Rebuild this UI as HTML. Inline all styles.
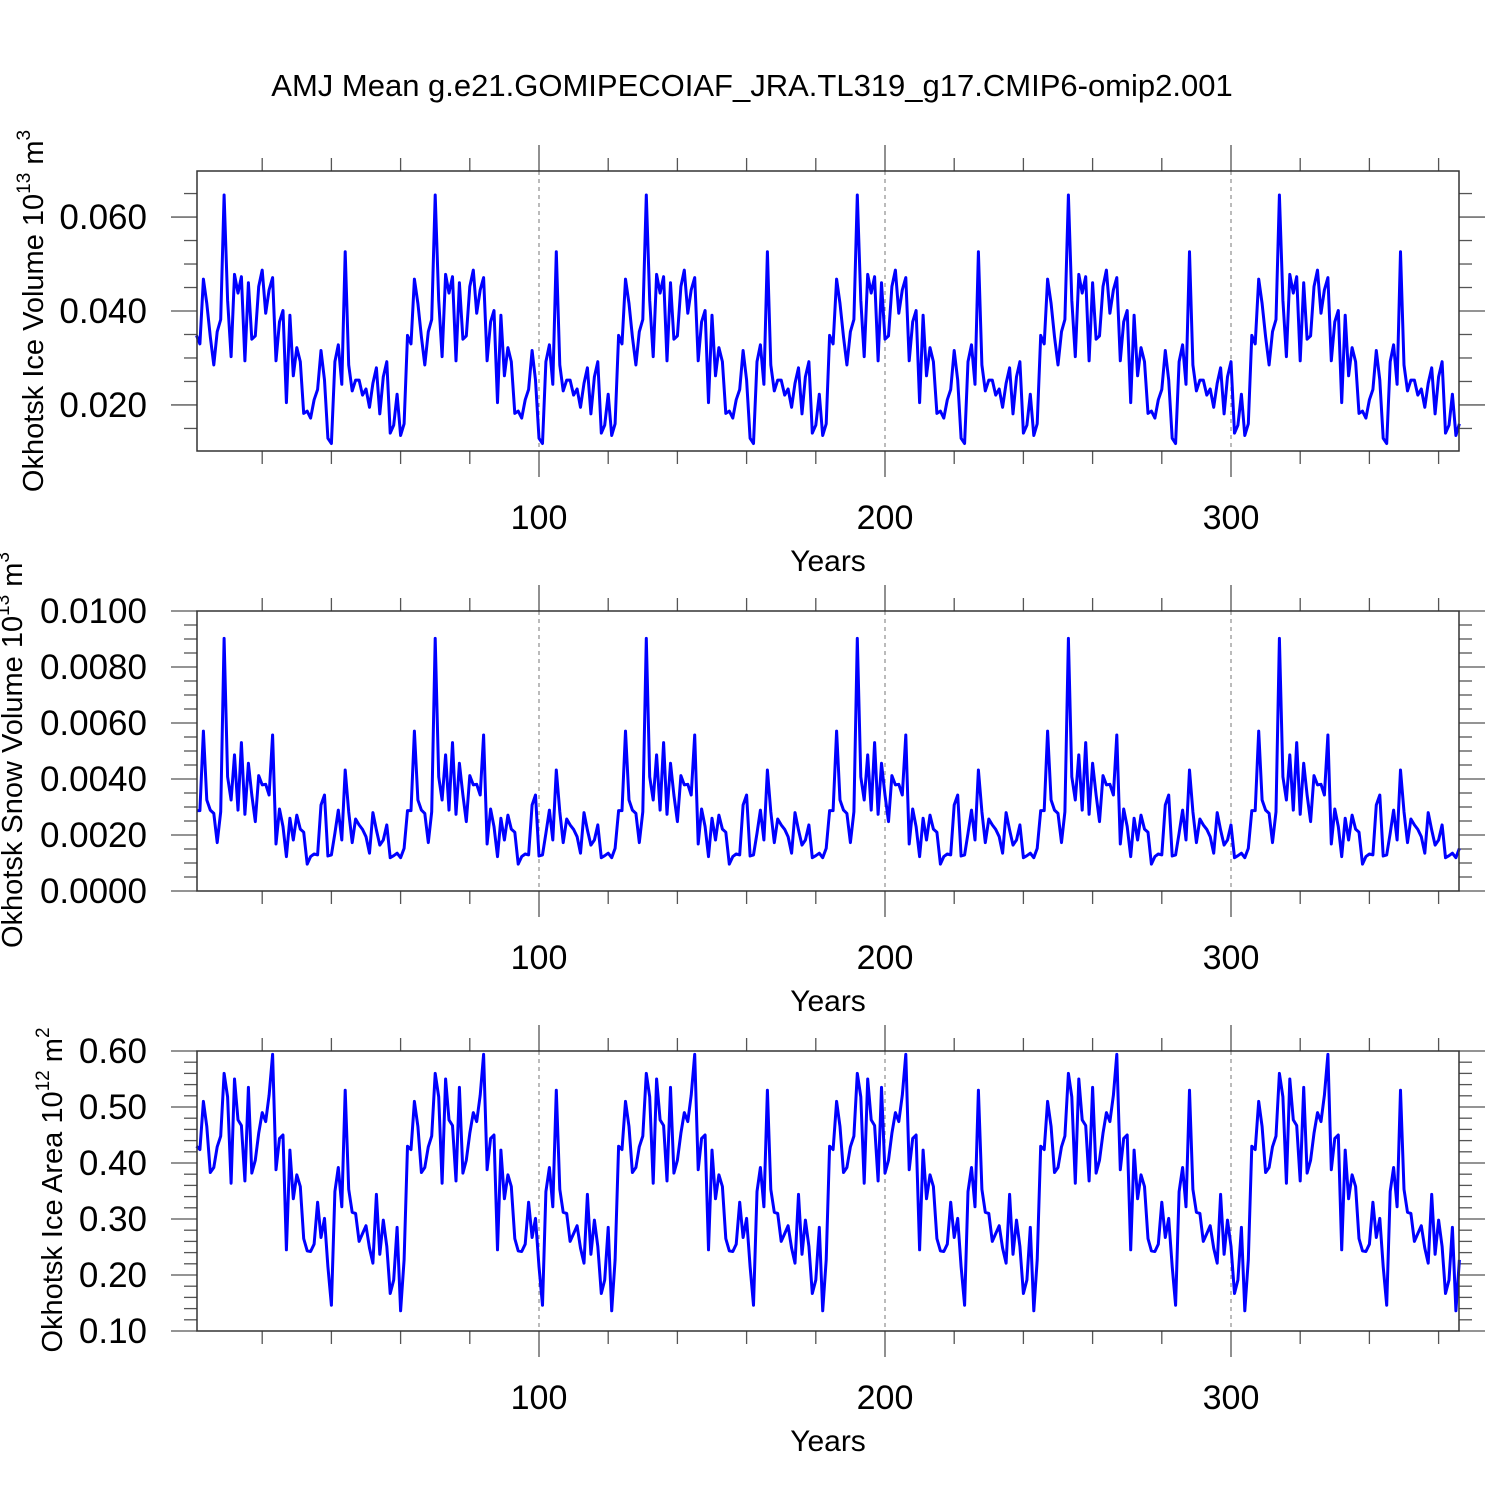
<!DOCTYPE html>
<html><head><meta charset="utf-8"><style>
html,body{margin:0;padding:0;background:#fff}
svg{display:block;font-family:"Liberation Sans",Arial,sans-serif}
</style></head><body>
<svg id="chart" width="1500" height="1500" viewBox="0 0 1500 1500">
<text x="752" y="96" font-size="31" text-anchor="middle">AMJ Mean g.e21.GOMIPECOIAF_JRA.TL319_g17.CMIP6-omip2.001</text>
</svg>
<script>
const iceVolCycle = [0.0348,0.0330,0.0468,0.0416,0.0345,0.0285,0.0356,0.0382,0.0647,0.0423,0.0303,0.0478,0.0438,0.0473,0.0294,0.0460,0.0340,0.0347,0.0452,0.0487,0.0395,0.0445,0.0471,0.0294,0.0377,0.0401,0.0205,0.0391,0.0262,0.0322,0.0292,0.0182,0.0187,0.0172,0.0211,0.0233,0.0316,0.0253,0.0129,0.0118,0.0292,0.0328,0.0244,0.0526,0.0285,0.0230,0.0253,0.0253,0.0221,0.0234,0.0195,0.0246,0.0279,0.0181,0.0260,0.0292,0.0140,0.0157,0.0223,0.0135,0.0160];
const snowVolCycle = [0.00287,0.00287,0.00571,0.00325,0.00289,0.00277,0.00173,0.00283,0.00902,0.00408,0.00325,0.00486,0.00289,0.00530,0.00274,0.00456,0.00343,0.00248,0.00412,0.00379,0.00381,0.00343,0.00557,0.00168,0.00293,0.00230,0.00123,0.00260,0.00182,0.00271,0.00221,0.00210,0.00096,0.00123,0.00132,0.00129,0.00307,0.00343,0.00125,0.00129,0.00206,0.00289,0.00182,0.00432,0.00283,0.00173,0.00257,0.00236,0.00220,0.00194,0.00135,0.00280,0.00218,0.00164,0.00182,0.00236,0.00119,0.00126,0.00135,0.00119,0.00152];
const iceAreaCycle = [0.430,0.424,0.510,0.465,0.383,0.392,0.429,0.448,0.560,0.518,0.364,0.550,0.477,0.467,0.368,0.535,0.382,0.405,0.453,0.490,0.474,0.521,0.594,0.388,0.444,0.450,0.245,0.423,0.336,0.379,0.358,0.265,0.243,0.242,0.255,0.330,0.267,0.301,0.215,0.146,0.349,0.392,0.322,0.530,0.353,0.312,0.310,0.260,0.274,0.288,0.248,0.221,0.344,0.237,0.298,0.251,0.167,0.191,0.285,0.136,0.227];
const iceVolume = [].concat(iceVolCycle,iceVolCycle,iceVolCycle,iceVolCycle,iceVolCycle,iceVolCycle);
const snowVolume = [].concat(snowVolCycle,snowVolCycle,snowVolCycle,snowVolCycle,snowVolCycle,snowVolCycle);
const iceArea = [].concat(iceAreaCycle,iceAreaCycle,iceAreaCycle,iceAreaCycle,iceAreaCycle,iceAreaCycle);
const xTickLabels = [100,200,300];
const yTicks1 = ["0.020","0.040","0.060"];
const yTicks2 = ["0.0000","0.0020","0.0040","0.0060","0.0080","0.0100"];
const yTicks3 = ["0.10","0.20","0.30","0.40","0.50","0.60"];

const NS="http://www.w3.org/2000/svg";
const svg=document.getElementById('chart');
function mk(tag,attrs,parent){const e=document.createElementNS(NS,tag);for(const k in attrs)e.setAttribute(k,attrs[k]);(parent||svg).appendChild(e);return e;}
const X0=197,X1=1459;
function xs(yr){return 539+(yr-100)*3.46;}

function panel(p){
  const g=mk('g',{});
  
  
  const ys=v=>p.bot-(v-p.ymin)/(p.ymax-p.ymin)*(p.bot-p.top);
  xTickLabels.forEach(t=>{
    const l=mk('line',{x1:xs(t),x2:xs(t),y1:p.top,y2:p.bot,stroke:'#777','stroke-width':1,'stroke-dasharray':'4,4'},g);
    
    
  });
  for(let t=20;t<=360;t+=20){
    const maj=t%100===0, len=maj?26:13;
    mk('line',{x1:xs(t),x2:xs(t),y1:p.top,y2:p.top-len,stroke:'#555','stroke-width':1.3},g);
    mk('line',{x1:xs(t),x2:xs(t),y1:p.bot,y2:p.bot+len,stroke:'#555','stroke-width':1.3},g);
  }
  const start=Math.ceil(p.ymin/p.minor-1e-6);
  for(let i=start;i*p.minor<=p.ymax+1e-9;i++){
    const v=i*p.minor, y=ys(v);
    const maj=Math.abs(v/p.major-Math.round(v/p.major))<1e-6, len=maj?26:13;
    mk('line',{x1:X0,x2:X0-len,y1:y,y2:y,stroke:'#555','stroke-width':1.3},g);
    mk('line',{x1:X1,x2:X1+len,y1:y,y2:y,stroke:'#555','stroke-width':1.3},g);
  }
  p.labels.forEach(s=>{
    const t=mk('text',{x:147,y:ys(parseFloat(s))+12,'font-size':35,'text-anchor':'end'},g);
    t.textContent=s;
    
    
  });
  xTickLabels.forEach(v=>{
    const t=mk('text',{x:xs(v),y:p.bot+78,'font-size':34,'text-anchor':'middle'},g);
    t.textContent=v;
    
    
  });
  const xt=mk('text',{x:828,y:p.bot+120,'font-size':30,'text-anchor':'middle'},g);
  xt.textContent='Years';
  
  
  const pts=p.data.map((v,i)=>xs(i+1).toFixed(1)+','+ys(v).toFixed(1)).join(' ');
  const pl=mk('polyline',{points:pts,fill:'none',stroke:'#0000ff','stroke-width':3,'stroke-linejoin':'round'},g);
  
  
  const r=mk('rect',{x:X0,y:p.top,width:X1-X0,height:p.bot-p.top,fill:'none',stroke:'#333','stroke-width':1.5},g);
  
  
  const yt=mk('text',{transform:`translate(${p.tx},${p.ty}) rotate(-90)`,'font-size':29,'text-anchor':'middle'},g);
  yt.innerHTML=p.title;
  
  
}
panel({name:'ice-volume-panel',top:171,bot:451,ymin:0.0102,ymax:0.0698,major:0.02,minor:0.005,labels:yTicks1,data:iceVolume,tx:43,ty:311,
 title:'Okhotsk Ice Volume 10<tspan font-size="19" dy="-13">13</tspan><tspan dy="13"> m</tspan><tspan font-size="19" dy="-13">3</tspan>'});
panel({name:'snow-volume-panel',top:611,bot:891,ymin:0,ymax:0.01,major:0.002,minor:0.0005,labels:yTicks2,data:snowVolume,tx:22,ty:750,
 title:'Okhotsk Snow Volume 10<tspan font-size="19" dy="-13">13</tspan><tspan dy="13"> m</tspan><tspan font-size="19" dy="-13">3</tspan>'});
panel({name:'ice-area-panel',top:1051,bot:1331,ymin:0.1,ymax:0.6,major:0.1,minor:0.02,labels:yTicks3,data:iceArea,tx:62,ty:1190,
 title:'Okhotsk Ice Area 10<tspan font-size="19" dy="-13">12</tspan><tspan dy="13"> m</tspan><tspan font-size="19" dy="-13">2</tspan>'});
</script>
</body></html>
